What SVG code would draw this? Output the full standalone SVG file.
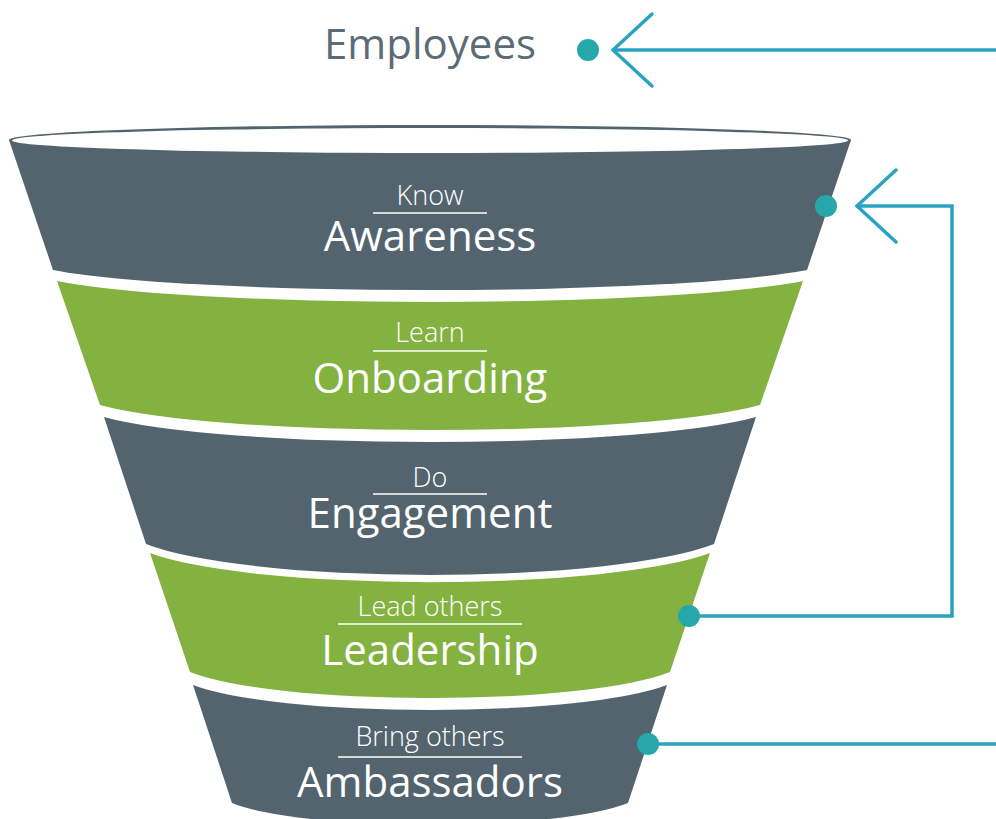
<svg xmlns="http://www.w3.org/2000/svg" width="996" height="819" viewBox="0 0 996 819">
  <style>
    .dark { fill: #53646f; }
    .green { fill: #84b241; }
    .small { font-family: "Open Sans", "Liberation Sans", sans-serif; font-weight: 300; font-size: 27px; fill: #ffffff; text-anchor: middle; }
    .big { font-family: "Open Sans", "Liberation Sans", sans-serif; font-weight: 400; font-size: 42px; fill: #ffffff; text-anchor: middle; }
    .rule { stroke: #ffffff; stroke-width: 1.5; }
    .link { fill: none; stroke: #2aa3c2; stroke-width: 3.5; stroke-linecap: round; stroke-linejoin: miter; }
    .dot { fill: #26a8aa; }
    .title { font-family: "Open Sans", "Liberation Sans", sans-serif; font-size: 42px; fill: #5c6b75; text-anchor: middle; }
  </style>
  <defs>
    <marker id="openArrow" markerUnits="userSpaceOnUse" markerWidth="100" markerHeight="100" refX="0" refY="0" orient="auto" overflow="visible">
      <path d="M -39 -36 L 0 0 L -39 36" fill="none" stroke="#2aa3c2" stroke-width="3.5" stroke-linecap="round" stroke-linejoin="round"/>
    </marker>
  </defs>

  <rect width="996" height="819" fill="#ffffff"/>

  <!-- funnel rim -->
  <g id="rim">
    <path class="dark" d="M 9 140 L 851 140 L 807 270 A 407 32.2 0 0 1 53 270 Z"/>
    <ellipse cx="430" cy="140" rx="421" ry="15" class="dark"/>
    <ellipse cx="430" cy="140.5" rx="418" ry="12.5" fill="#ffffff"/>
  </g>

  <!-- stage 1 -->
  <g id="awareness">
    <text class="small" x="430" y="205">Know</text>
    <line class="rule" x1="373" y1="213" x2="487" y2="213"/>
    <text class="big" x="430" y="251">Awareness</text>
  </g>

  <!-- stage 2 -->
  <g id="onboarding">
    <path class="green" d="M 57 281 A 403 33.8 0 0 0 803 281 L 760 405 A 356 40.2 0 0 1 100 405 Z"/>
    <text class="small" x="430" y="342">Learn</text>
    <line class="rule" x1="373" y1="351" x2="487" y2="351"/>
    <text class="big" x="430" y="393">Onboarding</text>
  </g>

  <!-- stage 3 -->
  <g id="engagement">
    <path class="dark" d="M 104 417 A 352 40.2 0 0 0 756 417 L 714 544 A 307 49.8 0 0 1 146 544 Z"/>
    <text class="small" x="430" y="487">Do</text>
    <line class="rule" x1="373" y1="494" x2="487" y2="494"/>
    <text class="big" x="430" y="528">Engagement</text>
  </g>

  <!-- stage 4 -->
  <g id="leadership">
    <path class="green" d="M 150 553 A 302 46.6 0 0 0 710 553 L 670 672 A 259 41.8 0 0 1 190 672 Z"/>
    <text class="small" x="430" y="616">Lead others</text>
    <line class="rule" x1="338" y1="624" x2="522" y2="624"/>
    <text class="big" x="430" y="665">Leadership</text>
  </g>

  <!-- stage 5 -->
  <g id="ambassadors">
    <path class="dark" d="M 193 685 A 256 40.2 0 0 0 667 685 L 628 803 A 214 35.4 0 0 1 232 803 Z"/>
    <text class="small" x="430" y="746">Bring others</text>
    <line class="rule" x1="338" y1="757" x2="522" y2="757"/>
    <text class="big" x="430" y="797">Ambassadors</text>
  </g>

  <!-- entry label -->
  <g id="employees">
    <text class="title" x="430" y="59">Employees</text>
  </g>

  <!-- connectors -->
  <g id="connectors">
    <path class="link" d="M 996 50 H 613" marker-end="url(#openArrow)"/>
    <path class="link" d="M 689 616 H 952 V 206 H 857" marker-end="url(#openArrow)"/>
    <path class="link" d="M 648 744 H 998"/>
    <circle class="dot" cx="588" cy="50" r="11"/>
    <circle class="dot" cx="826" cy="206" r="11"/>
    <circle class="dot" cx="689" cy="616" r="11"/>
    <circle class="dot" cx="648" cy="744" r="11"/>
  </g>
</svg>
